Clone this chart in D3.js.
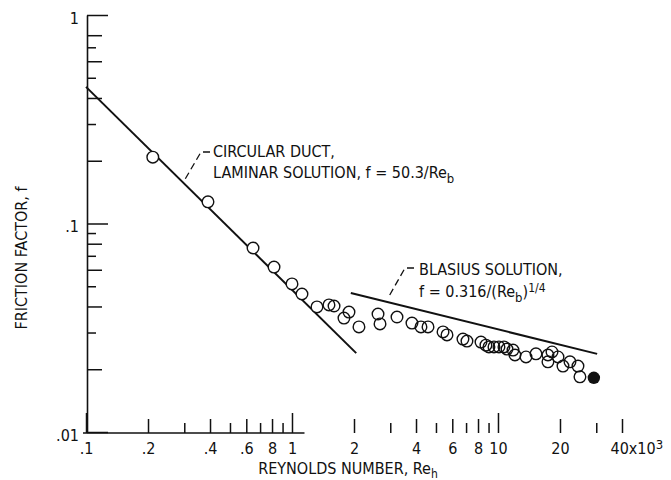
<!DOCTYPE html>
<html>
<head>
<meta charset="utf-8">
<script src="https://cdn.jsdelivr.net/npm/d3@7"></script>
<style>
  body { margin: 0; background: #fff; }
  svg text { font-family: "Liberation Sans Narrow", "DejaVu Sans Condensed", "Arial Narrow", sans-serif; fill: #111; }
</style>
</head>
<body>
<svg id="chart" width="671" height="480"></svg>
<script>
// Measured points: Reynolds number (x10^3) and friction factor
const reynolds = [0.211, 0.391, 0.647, 0.818, 1.00, 1.118, 1.322, 1.512, 1.600, 1.891,
                  1.788, 2.114, 2.616, 2.675, 3.234, 3.823, 4.228, 4.574, 5.41, 5.655,
                  6.76, 7.07, 8.27, 8.74, 9.04, 9.56, 10.11, 10.69, 11.06, 11.83,
                  12.09, 13.68, 15.29, 17.48, 17.48, 18.29, 19.56, 20.68, 22.36, 24.45, 25.0];
const friction = [0.208, 0.127, 0.0763, 0.0618, 0.0513, 0.0459, 0.0398, 0.0407, 0.0402, 0.0376,
                  0.0352, 0.0319, 0.0368, 0.0330, 0.0356, 0.0333, 0.0319, 0.0319, 0.0302, 0.0292,
                  0.0279, 0.0273, 0.0270, 0.0261, 0.0256, 0.0256, 0.0256, 0.0256, 0.0250, 0.0247,
                  0.0234, 0.0229, 0.0237, 0.0234, 0.0217, 0.0242, 0.0229, 0.0207, 0.0217, 0.0207, 0.0184];
// Solid symbol
const reynoldsSolid = [29.2];
const frictionSolid = [0.0182];

// Reference curves (end points)
const laminarRe = [0.1, 2.05];
const laminarF = [0.452, 0.0239];
const blasiusRe = [1.93, 30.3];
const blasiusF = [0.0464, 0.0237];

// Tick values
const xMajorTicks = [0.1, 1, 10];
const xEvenTicks = [0.2, 0.4, 0.6, 0.8, 2, 4, 6, 8, 20, 40];
const xOddTicks = [0.3, 0.5, 0.7, 0.9, 3, 5, 7, 9, 30];
const xLabelValues = [0.1, 0.2, 0.4, 0.6, 0.8, 1, 2, 4, 6, 8, 10, 20, 40];
const xLabelText = [".1", ".2", ".4", ".6", "8", "1", "2", "4", "6", "8", "10", "20", "40"];
const yMajorTicks = [0.01, 0.1, 1];
const yEvenTicks = [0.02, 0.04, 0.06, 0.08, 0.2, 0.4, 0.6, 0.8];
const yOddTicks = [0.03, 0.05, 0.07, 0.09, 0.3, 0.5, 0.7];
const yLabelText = [".01", ".1", "1"];

const svg = d3.select("#chart");
const x = d3.scaleLog().domain([0.1, 40]).range([86, 622]);
const y = d3.scaleLog().domain([0.01, 1]).range([432, 15]);
const axisY0 = 433;
const ink = "#111";

// ---- Y axis: ticks point inward, labels on the left
const yAx = svg.append("g").attr("transform", `translate(${x(0.1) + 1},0)`);
yAx.append("g").call(d3.axisRight(y).tickValues(yMajorTicks).tickSize(21).tickSizeOuter(0).tickFormat(""));
yAx.append("g").call(d3.axisRight(y).tickValues(yEvenTicks).tickSize(15).tickSizeOuter(0).tickFormat(""));
yAx.append("g").call(d3.axisRight(y).tickValues(yOddTicks).tickSize(9).tickSizeOuter(0).tickFormat(""));
yAx.append("g").call(d3.axisLeft(y).tickValues(yMajorTicks).tickSize(0).tickPadding(8)
  .tickFormat((d, i) => yLabelText[i]));
yAx.selectAll("path.domain").attr("stroke", ink).attr("stroke-width", 1.6);
yAx.selectAll(".tick line").attr("stroke", ink).attr("stroke-width", 1.5);
yAx.selectAll("g:nth-child(n+2) path.domain").remove();
yAx.selectAll("g").attr("font-family", null).attr("font-size", null);
yAx.selectAll(".tick text").attr("font-size", 16).attr("dy", "0.5em");

// ---- X axis: ticks point up from the baseline, labels below
const xAx = svg.append("g").attr("transform", `translate(0,${axisY0})`);
xAx.append("g").call(d3.axisTop(x).tickValues(xMajorTicks).tickSize(20).tickSizeOuter(0).tickFormat(""));
xAx.append("g").call(d3.axisTop(x).tickValues(xEvenTicks).tickSize(14).tickSizeOuter(0).tickFormat(""));
xAx.append("g").call(d3.axisTop(x).tickValues(xOddTicks).tickSize(10).tickSizeOuter(0).tickFormat(""));
const xLab = xAx.append("g").call(d3.axisBottom(x).tickValues(xLabelValues).tickSize(0).tickPadding(10)
  .tickFormat((d, i) => xLabelText[i]));
xAx.selectAll("path.domain").remove();
xAx.selectAll(".tick line").attr("stroke", ink).attr("stroke-width", 1.5);
xAx.selectAll("g").attr("font-family", null).attr("font-size", null);
xAx.selectAll(".tick text").attr("font-size", 16);
// last label carries the x10^3 multiplier
const lastLabel = xLab.selectAll(".tick text").filter(d => d === 40);
lastLabel.attr("text-anchor", "start").attr("dx", -12);
lastLabel.append("tspan").text("x10");
lastLabel.append("tspan").attr("dy", "-0.45em").attr("font-size", 13).text("3");
// baseline under the first decade
xAx.append("line")
  .attr("x1", x(0.1) - 3).attr("x2", x(1.15))
  .attr("y1", 0).attr("y2", 0)
  .attr("stroke", ink).attr("stroke-width", 1.5);

// ---- Axis titles
const xTitle = svg.append("text").attr("x", 348).attr("y", 474).attr("text-anchor", "middle").attr("font-size", 16);
xTitle.append("tspan").text("REYNOLDS NUMBER,  Re");
xTitle.append("tspan").attr("dy", 4).attr("font-size", 12).text("h");

svg.append("text")
  .attr("transform", "translate(27,258) rotate(-90)")
  .attr("text-anchor", "middle").attr("font-size", 16)
  .text("FRICTION FACTOR, f");

// ---- Reference curves
const line = d3.line().x(d => x(d[0])).y(d => y(d[1]));
svg.append("path").datum(d3.zip(laminarRe, laminarF)).attr("d", line)
  .attr("fill", "none").attr("stroke", ink).attr("stroke-width", 2);
svg.append("path").datum(d3.zip(blasiusRe, blasiusF)).attr("d", line)
  .attr("fill", "none").attr("stroke", ink).attr("stroke-width", 2);

// ---- Data symbols: white discs hide the curves, outlines all stay visible
const pts = d3.zip(reynolds, friction);
const r = 5.8;
svg.append("g").selectAll("circle").data(pts).join("circle")
  .attr("cx", d => x(d[0])).attr("cy", d => y(d[1])).attr("r", r).attr("fill", "#fff");
svg.append("g").selectAll("circle").data(pts).join("circle")
  .attr("cx", d => x(d[0])).attr("cy", d => y(d[1])).attr("r", r)
  .attr("fill", "none").attr("stroke", ink).attr("stroke-width", 1.4);
svg.append("g").selectAll("circle").data(d3.zip(reynoldsSolid, frictionSolid)).join("circle")
  .attr("cx", d => x(d[0])).attr("cy", d => y(d[1])).attr("r", r + 0.4)
  .attr("fill", ink);

// ---- Annotations with dashed leaders
const leader = d3.line();
svg.append("path").attr("d", leader([[210, 152], [201, 152], [184, 181]]))
  .attr("fill", "none").attr("stroke", ink).attr("stroke-width", 1.3).attr("stroke-dasharray", "7,4");
svg.append("path").attr("d", leader([[414, 268], [405, 268], [388, 298]]))
  .attr("fill", "none").attr("stroke", ink).attr("stroke-width", 1.3).attr("stroke-dasharray", "7,4");

svg.append("text").attr("x", 213).attr("y", 157).attr("font-size", 16).text("CIRCULAR DUCT,");
const lam = svg.append("text").attr("x", 213).attr("y", 178).attr("font-size", 16);
lam.append("tspan").text("LAMINAR SOLUTION,  f = 50.3/Re");
lam.append("tspan").attr("dy", 5).attr("font-size", 13).text("b");

svg.append("text").attr("x", 419).attr("y", 275).attr("font-size", 16).text("BLASIUS SOLUTION,");
const bl = svg.append("text").attr("x", 419).attr("y", 297).attr("font-size", 16);
bl.append("tspan").text("f = 0.316/(Re");
bl.append("tspan").attr("dy", 5).attr("font-size", 13).text("b");
bl.append("tspan").attr("dy", -5).text(")");
bl.append("tspan").attr("dy", -5).attr("font-size", 12).text("1/4");
</script>
</body>
</html>
